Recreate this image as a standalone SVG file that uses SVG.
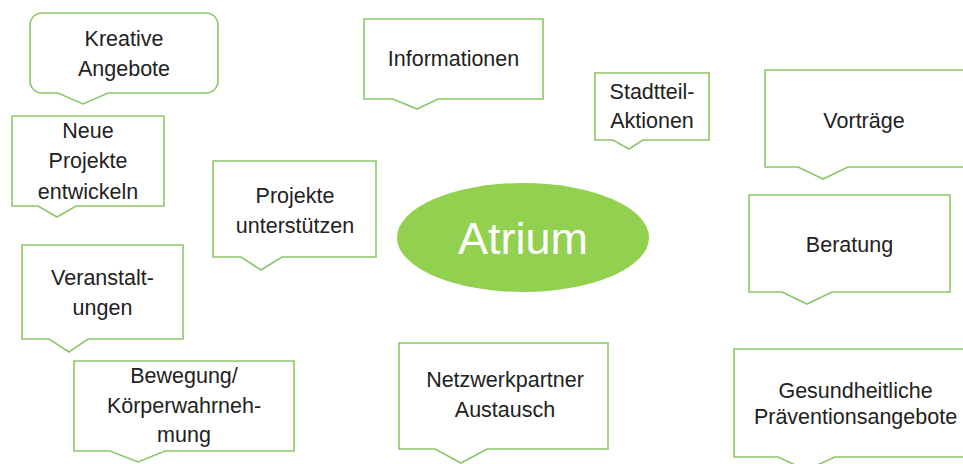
<svg xmlns="http://www.w3.org/2000/svg" width="963" height="464" viewBox="0 0 963 464">
<style>
.box{fill:#ffffff;stroke:#8DC668;stroke-width:1.6;stroke-linejoin:miter}
.t{font-family:"Liberation Sans",Arial,sans-serif;font-size:21.5px;fill:#222222;text-anchor:middle}
.c{font-family:"Liberation Sans",Arial,sans-serif;font-size:45px;fill:#ffffff;text-anchor:middle}
</style>
<rect width="963" height="464" fill="#ffffff"/>
<g id="connectors"/>
<g id="kreative">
<path class="box" d="M42,13 H206 A12,12 0 0 1 218,25 V81 A12,12 0 0 1 206,93 H108 L83,104 L58,93 H42 A12,12 0 0 1 30,81 V25 A12,12 0 0 1 42,13 Z"/>
<text class="t" x="124" y="46">Kreative</text>
<text class="t" x="124" y="76">Angebote</text>
</g>
<g id="neue">
<path class="box" d="M12,116 H164 V206 H76 L57,217 L38,206 H12 Z"/>
<text class="t" x="88" y="138">Neue</text>
<text class="t" x="88" y="168">Projekte</text>
<text class="t" x="88" y="199">entwickeln</text>
</g>
<g id="projekte">
<path class="box" d="M213,161 H376 V257 H282 L261,270 L241,257 H213 Z"/>
<text class="t" x="295" y="203">Projekte</text>
<text class="t" x="295" y="233">unterstützen</text>
</g>
<g id="informationen">
<path class="box" d="M364,19 H543 V99 H438 L417,109 L393,99 H364 Z"/>
<text class="t" x="453.5" y="66">Informationen</text>
</g>
<g id="stadtteil">
<path class="box" d="M595,73 H709 V140 H643 L629,149 L613,140 H595 Z"/>
<text class="t" x="652" y="99">Stadtteil-</text>
<text class="t" x="652" y="128">Aktionen</text>
</g>
<g id="vortraege">
<path class="box" d="M765,70 H968 V167 H848 L823,179 L798,167 H765 Z"/>
<text class="t" x="864" y="128">Vorträge</text>
</g>
<g id="beratung">
<path class="box" d="M749,195 H950 V292 H832 L807,304 L782,292 H749 Z"/>
<text class="t" x="849.5" y="252">Beratung</text>
</g>
<g id="atrium">
<ellipse cx="523" cy="237.5" rx="126" ry="54.5" fill="#92D050"/>
<text class="c" x="523" y="254">Atrium</text>
</g>
<g id="veranstaltungen">
<path class="box" d="M22,245 H183 V339 H88 L69,352 L49,339 H22 Z"/>
<text class="t" x="102.5" y="285">Veranstalt-</text>
<text class="t" x="102.5" y="315">ungen</text>
</g>
<g id="bewegung">
<path class="box" d="M74,361 H294 V451 H165 L138,462 L110,451 H74 Z"/>
<text class="t" x="184" y="383">Bewegung/</text>
<text class="t" x="184" y="413">Körperwahrneh-</text>
<text class="t" x="184" y="442">mung</text>
</g>
<g id="netzwerk">
<path class="box" d="M399,343 H608 V449 H487 L461,463 L435,449 H399 Z"/>
<text class="t" x="505" y="387">Netzwerkpartner</text>
<text class="t" x="505" y="417">Austausch</text>
</g>
<g id="gesundheit">
<path class="box" d="M734,349 H977 V457 H835 L806,470 L778,457 H734 Z"/>
<text class="t" x="855.5" y="398">Gesundheitliche</text>
<text class="t" x="855.5" y="424">Präventionsangebote</text>
</g>
</svg>
